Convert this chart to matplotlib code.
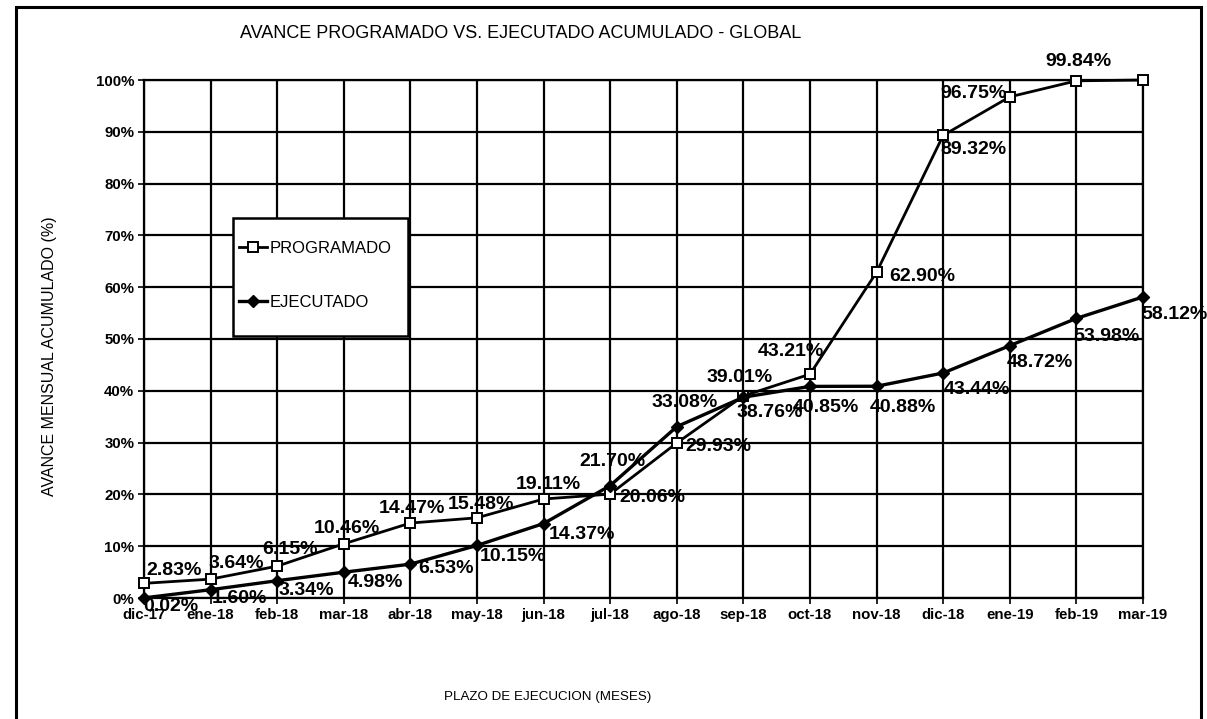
import matplotlib
matplotlib.use("Agg")
import matplotlib.pyplot as plt
from matplotlib.patches import Rectangle
from matplotlib.ticker import MultipleLocator, PercentFormatter

plt.rcParams.update({
    "font.family": ["Liberation Sans", "DejaVu Sans"],
    "font.size": 10,
})

months = ["dic-17", "ene-18", "feb-18", "mar-18", "abr-18", "may-18", "jun-18", "jul-18",
          "ago-18", "sep-18", "oct-18", "nov-18", "dic-18", "ene-19", "feb-19", "mar-19"]
programado = [2.83, 3.64, 6.15, 10.46, 14.47, 15.48, 19.11, 20.06,
              29.93, 39.01, 43.21, 62.90, 89.32, 96.75, 99.84, 100.0]
ejecutado = [0.02, 1.60, 3.34, 4.98, 6.53, 10.15, 14.37, 21.70,
             33.08, 38.76, 40.85, 40.88, 43.44, 48.72, 53.98, 58.12]

# label centre offsets from the marker, in pixels (dx right, dy down); None = no label
prog_off = [(30, -13), (26, -16), (13, -17), (3, -15), (2, -15), (4, -13), (5, -15),
            (42, 3), (42, 4), (-4, -18), (-19, -23), (46, 4), (30, 14), (-36, -3),
            (2, -19), None]
ejec_off = [(27, 9), (29, 9), (29, 10), (32, 10), (36, 4), (36, 11), (38, 11),
            (2, -24), (8, -24), (26, 15), (16, 21), (26, 21), (34, 17), (30, 17),
            (30, 18), (32, 18)]

fig = plt.figure(figsize=(12.07, 7.19), dpi=100)
ax = fig.add_axes([144 / 1207, 1 - 598 / 719, 999 / 1207, 518 / 719])

x = list(range(len(months)))
ax.plot(x, programado, color="black", linewidth=2, marker="s", markersize=6.5,
        markerfacecolor="white", markeredgecolor="black", markeredgewidth=1.4,
        label="PROGRAMADO", zorder=4, clip_on=False)
ax.plot(x, ejecutado, color="black", linewidth=2.4, marker="D", markersize=6.5,
        markerfacecolor="black", label="EJECUTADO", zorder=4, clip_on=False)

lbl = dict(textcoords="offset pixels", ha="center", va="center", fontsize=14,
           fontweight="bold", zorder=5, annotation_clip=False)
for xi, v, off in zip(x, programado, prog_off):
    if off is not None:
        ax.annotate(f"{v:.2f}%", (xi, v), xytext=(off[0], -off[1]), **lbl)
for xi, v, off in zip(x, ejecutado, ejec_off):
    ax.annotate(f"{v:.2f}%", (xi, v), xytext=(off[0], -off[1]), **lbl)

ax.set_xlim(0, len(months) - 1)
ax.set_ylim(0, 100)
ax.set_xticks(x)
ax.set_xticklabels(months, fontsize=10.8, fontweight="bold")
ax.yaxis.set_major_locator(MultipleLocator(10))
ax.yaxis.set_major_formatter(PercentFormatter(decimals=0))
for t in ax.get_yticklabels():
    t.set_fontsize(10.8)
    t.set_fontweight("bold")
ax.tick_params(length=4, width=1.2, color="black", pad=3)
ax.grid(True, color="black", linewidth=1.6)
for s in ax.spines.values():
    s.set_linewidth(1.6)

# legend box drawn by hand, entries placed inside it
ax.add_patch(Rectangle((233 / 1207, 1 - 336 / 719), 175 / 1207, 118 / 719,
                       transform=fig.transFigure, facecolor="white",
                       edgecolor="black", linewidth=1.8, zorder=6))
leg = ax.legend(loc="upper left", bbox_to_anchor=(239 / 1207, 1 - 241 / 719),
                bbox_transform=fig.transFigure, frameon=False, fontsize=12,
                handlelength=1.7, handletextpad=0.15, labelspacing=2.35,
                borderpad=0, borderaxespad=0)
leg.set_zorder(7)

fig.text(521 / 1207, 1 - 34 / 719, "AVANCE PROGRAMADO VS. EJECUTADO ACUMULADO - GLOBAL",
         ha="center", va="center", fontsize=13)
fig.text(50 / 1207, 1 - 356 / 719, "AVANCE MENSUAL ACUMULADO (%)", rotation=90,
         ha="center", va="center", fontsize=11.5)
fig.text(548 / 1207, 1 - 697 / 719, "PLAZO DE EJECUCION (MESES)",
         ha="center", va="center", fontsize=9.6)

fig.patches.append(Rectangle((16 / 1207, -0.02), 1185 / 1207, 1 - 7 / 719 + 0.02,
                             transform=fig.transFigure, fill=False,
                             edgecolor="black", linewidth=2.2))

fig.savefig("out.png", dpi=100)
